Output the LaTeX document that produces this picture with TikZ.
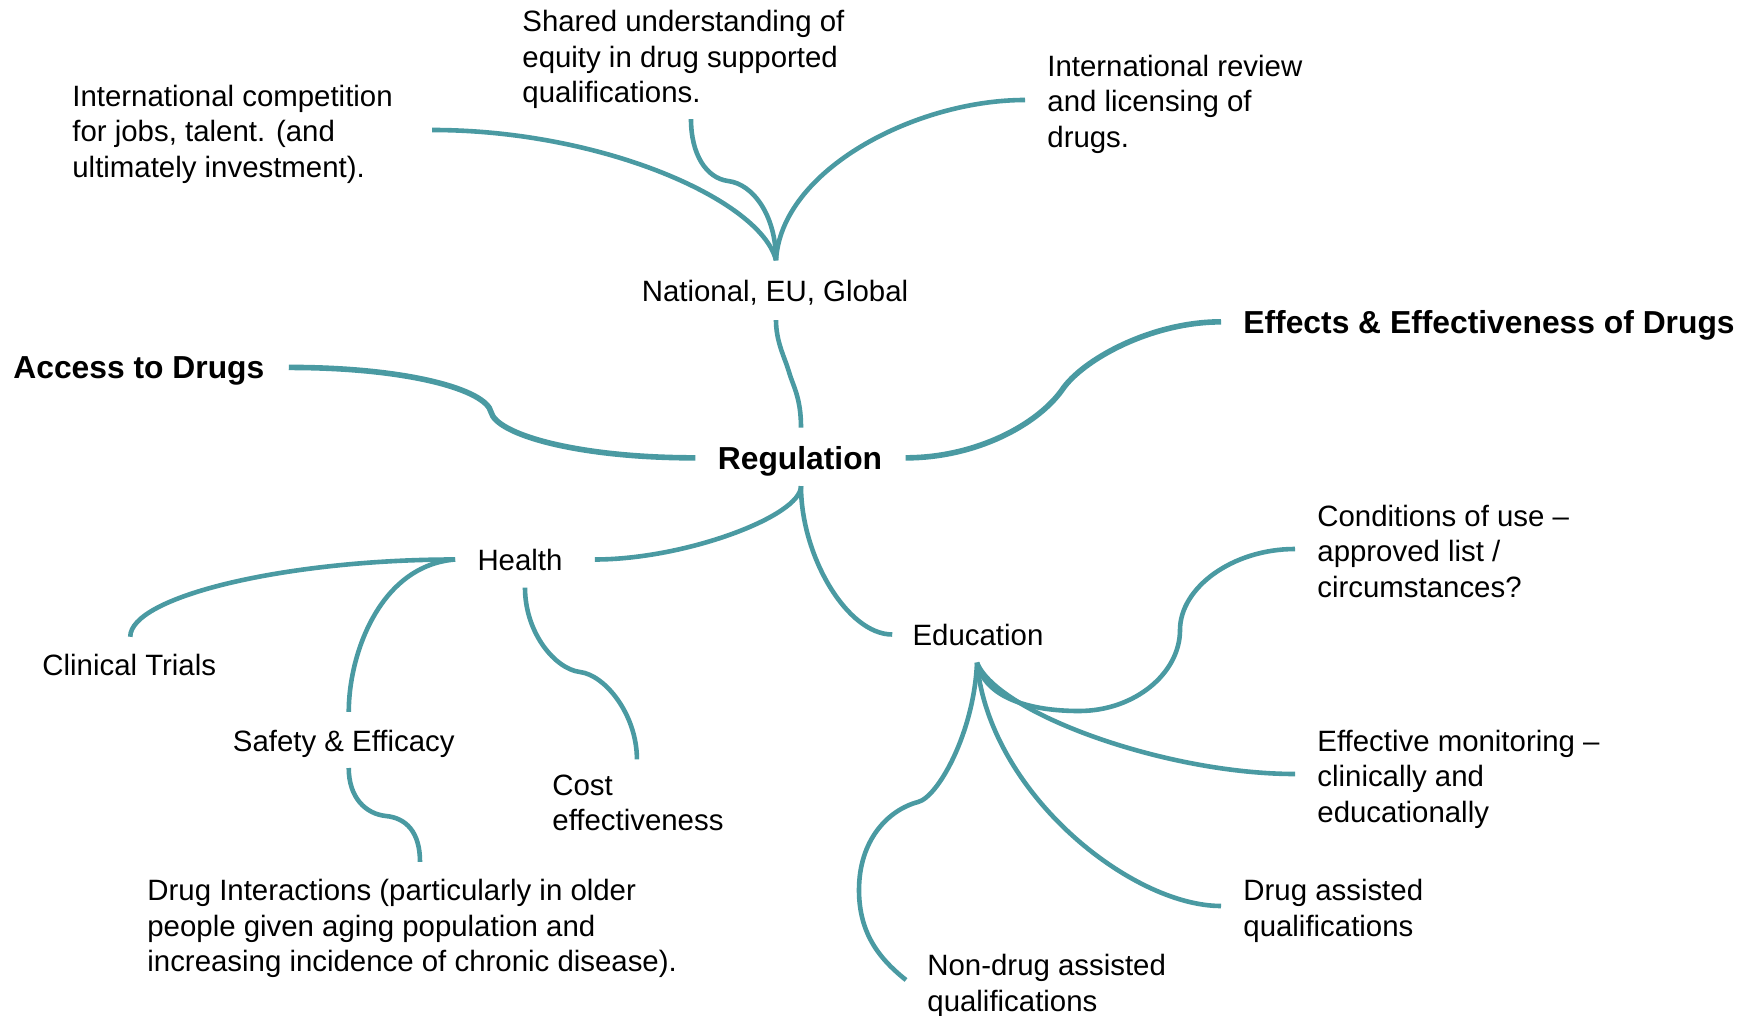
\documentclass[tikz,border=0pt]{standalone}
\usepackage{fontspec}
\setmainfont{Liberation Sans}
\usetikzlibrary{calc}
\definecolor{branchteal}{RGB}{74,154,162}

\begin{document}
\begin{tikzpicture}[x=0.5pt,y=-0.5pt,
  topic/.style={font=\fontsize{15.9}{19}\selectfont\bfseries, inner sep=0pt},
  item/.style={font=\fontsize{14.7}{17.75}\selectfont, inner sep=0pt, align=left},
  branch/.style={draw=branchteal, line width=2.3pt},
  mainbranch/.style={branch, line width=2.8pt}]
\useasboundingbox (0,0) rectangle (1756,1016);

% centre and main topics
\node[topic, anchor=base] (reg) at (800,469) {Regulation};
\node[topic, anchor=base west] (access) at (13,379) {Access to Drugs};
\node[topic, anchor=base west] (effects) at (1243,334) {Effects \& Effectiveness of Drugs};

\node[item, anchor=base] (levels) at (775,301) {National, EU, Global};
\node[item, anchor=west] (compete) at (72,134) {International competition\\for jobs, talent. (and\\ultimately investment).};
\node[item, anchor=west] (equity) at (522,59.5) {Shared understanding of\\equity in drug supported\\qualifications.};
\node[item, anchor=west] (review) at (1047,104) {International review\\and licensing of\\drugs.};

\node[item, anchor=base] (health) at (520,570) {Health};
\node[item, anchor=base west] (trials) at (42,675.5) {Clinical Trials};
\node[item, anchor=base west] (safety) at (232.5,751.5) {Safety \& Efficacy};
\node[item, anchor=west] (cost) at (552,803) {Cost\\effectiveness};
\node[item, anchor=west] (interact) at (147,928.5) {Drug Interactions (particularly in older\\people given aging population and\\increasing incidence of chronic disease).};

\node[item, anchor=base] (edu) at (978,645) {Education};
\node[item, anchor=west] (cond) at (1317,551) {Conditions of use –\\approved list /\\circumstances?};
\node[item, anchor=west] (monitor) at (1317,779) {Effective monitoring –\\clinically and\\educationally};
\node[item, anchor=west] (drugq) at (1243,911) {Drug assisted\\qualifications};
\node[item, anchor=west] (nondrugq) at (927,986) {Non-drug assisted\\qualifications};

% main branches
\draw[mainbranch] ($(reg.west)+(-22,-3)$) .. controls +(-120,0) and +(5,22) .. (491,412)
  .. controls +(-5,-22) and +(120,0) .. ($(access.east)+(24,-4)$);
\draw[mainbranch] ($(reg.east)+(23,-3)$) .. controls +(70,0) and +(-25,35) .. (1062,390)
  .. controls +(20,-30) and +(-70,0) .. ($(effects.west)+(-22,-4)$);
\draw[branch] ($(reg.north)+(1,-18)$) .. controls +(0,-30) and +(4,14) .. (789,372)
  .. controls +(-4,-14) and +(0,22) .. ($(levels.south)+(1,15)$);

% national / international
\coordinate (hub) at ($(levels.north)+(1,-19)$);
\draw[branch] (hub) .. controls +(-15,-60) and +(170,0) .. ($(compete.east)+(39,-4)$);
\draw[branch] (hub) .. controls +(0,-45) and +(25,3) .. (728,181)
  .. controls +(-22,-3) and +(0,35) .. ($(equity.south west)+(169,10)$);
\draw[branch] (hub) .. controls +(5,-90) and +(-110,0) .. ($(review.west)+(-22,-4)$);

% health and education
\coordinate (root) at ($(reg.south)+(1,10)$);
\draw[branch] (root) .. controls +(0,30) and +(90,0) .. ($(health.east)+(32,0)$);
\draw[branch] (root) .. controls +(0,70) and +(-45,0) .. ($(edu.west)+(-20,0)$);

\coordinate (hleft) at ($(health.west)+(-22,0)$);
\draw[branch] (hleft) .. controls +(-170,0) and +(0,-40) .. ($(trials.north)+(1,-17)$);
\draw[branch] (hleft) .. controls +(-75,6) and +(0,-58) .. ($(safety.north)+(5,-18)$);
\draw[branch] ($(health.south)+(5,17)$) .. controls +(0,45) and +(-25,-3) .. (580,672)
  .. controls +(25,3) and +(0,-45) .. ($(cost.north)+(-1,-15)$);
\draw[branch] ($(safety.south)+(5,10)$) .. controls +(0,30) and +(-20,-2) .. (386,816)
  .. controls +(20,2) and +(0,-30) .. ($(interact.north west)+(273,-17)$);

\coordinate (ehub) at ($(edu.south)+(-1,17)$);
\draw[branch] (ehub) .. controls +(8,35) and +(-50,0) .. (1079,711)
  .. controls +(56,0) and +(0,43) .. (1180,630)
  .. controls +(0,-42) and +(-63,0) .. ($(cond.west)+(-22,-2)$);
\draw[branch] (ehub) .. controls +(20,50) and +(-130,0) .. ($(monitor.west)+(-22,-5)$);
\draw[branch] (ehub) .. controls +(12,130) and +(-90,0) .. ($(drugq.west)+(-22,-5)$);
\draw[branch] (ehub) .. controls +(-3,70) and +(20,-5) .. (918,802)
  .. controls +(-30,8) and +(0,-50) .. (859,890)
  .. controls +(0,45) and +(-25,-20) .. ($(nondrugq.west)+(-21,-6)$);
\end{tikzpicture}
\end{document}
